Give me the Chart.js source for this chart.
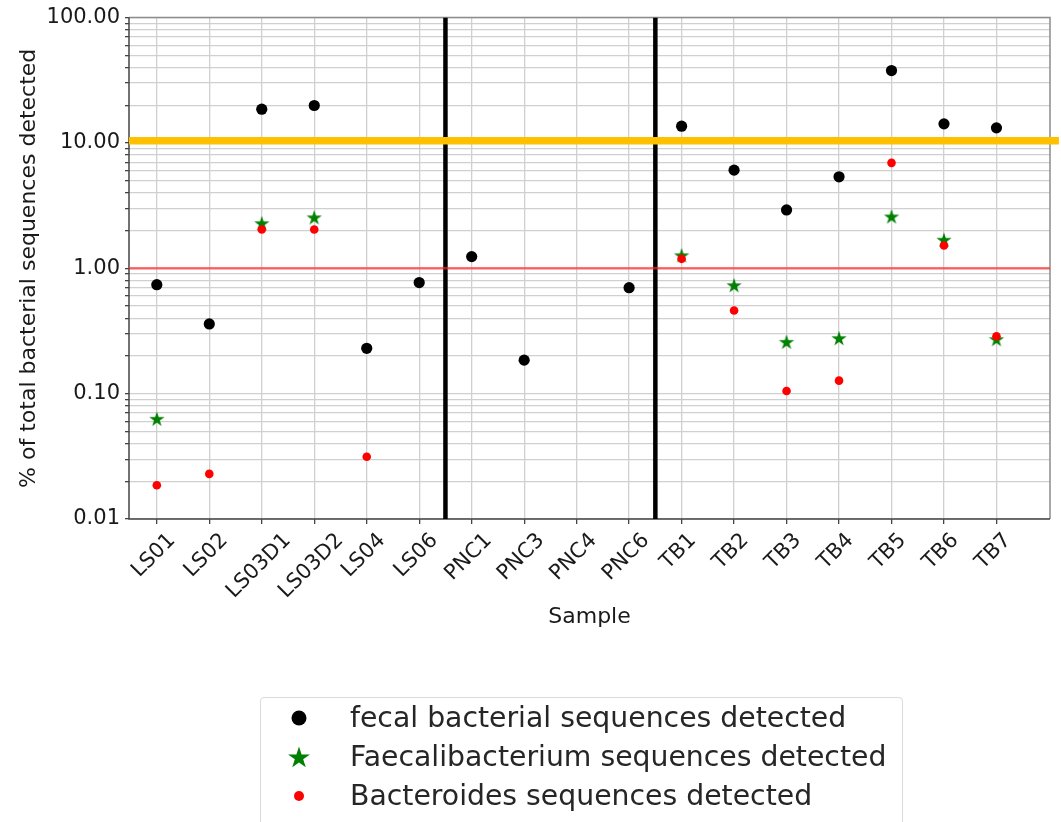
<!DOCTYPE html>
<html>
<head>
<meta charset="utf-8">
<script src="https://cdn.jsdelivr.net/npm/chart.js@4.4.1/dist/chart.umd.min.js"></script>
<style>
html, body { margin: 0; padding: 0; background: #fff; }
body { width: 1061px; height: 822px; overflow: hidden; position: relative; font-family: "DejaVu Sans", sans-serif; }
#grafico { position: absolute; left: 0; top: 0; }
#legenda { position: absolute; left: 260px; top: 697px; width: 641px; height: 140px; border: 1px solid #dadada; border-radius: 4px; background: #fff; }
.item { height: 39px; line-height: 39px; display: flex; align-items: center; font-size: 28.3px; color: #262626; white-space: nowrap; }
.marca { width: 76px; display: flex; justify-content: center; align-items: center; }
.texto { margin-left: 13px; }
</style>
</head>
<body>
<canvas id="grafico" width="1061" height="822"></canvas>
<div id="legenda">
  <div class="item"><span class="marca"><svg width="18" height="18"><circle cx="9" cy="9" r="7.5" fill="#000"/></svg></span><span class="texto">fecal bacterial sequences detected</span></div>
  <div class="item"><span class="marca"><svg width="24" height="24" id="estrelaLeg"></svg></span><span class="texto">Faecalibacterium sequences detected</span></div>
  <div class="item"><span class="marca"><svg width="12" height="12"><circle cx="6" cy="6" r="5" fill="#ff0000"/></svg></span><span class="texto">Bacteroides sequences detected</span></div>
</div>
<script>
// amostras no eixo x
const amostras = ["LS01", "LS02", "LS03D1", "LS03D2", "LS04", "LS06", "PNC1", "PNC3", "PNC4", "PNC6",
  "TB1", "TB2", "TB3", "TB4", "TB5", "TB6", "TB7"];

// % do total de sequencias (null = nao detectado)
const fecais = [0.74, 0.36, 18.6, 19.9, 0.23, 0.77, 1.24, 0.185, null, 0.70, 13.6, 6.07, 2.92, 5.37, 37.8, 14.2, 13.2];
const faecalibacterium = [0.063, null, 2.29, 2.55, null, null, null, null, null, null, 1.27, 0.733, 0.259, 0.277, 2.59, 1.69, 0.272];
const bacteroides = [0.0186, 0.0229, 2.04, 2.04, 0.0314, null, null, null, null, null, 1.19, 0.461, 0.105, 0.127, 6.94, 1.52, 0.287];

// linhas de referencia
const divisores = [5.5, 9.5];
const limiteLaranja = 10.4;
const limiteLaranjaX = [-0.53, 17.19];
const linhaVermelha = 1;

// eixos
const xMin = -0.53, xMax = 17.02;
const yMaiores = [0.01, 0.1, 1, 10, 100];
const yRotulos = ["0.01", "0.10", "1.00", "10.00", "100.00"];

Chart.defaults.font.family = "'DejaVu Sans', sans-serif";

function pontos(valores) {
  return valores.map((v, i) => ({x: i, y: v})).filter(p => p.y !== null);
}

function desenhaEstrela(ctx, cx, cy, raio) {
  ctx.beginPath();
  for (let i = 0; i < 10; i++) {
    const r = i % 2 === 0 ? raio : raio * 0.382;
    const a = -Math.PI / 2 + i * Math.PI / 5;
    ctx.lineTo(cx + r * Math.cos(a), cy + r * Math.sin(a));
  }
  ctx.closePath();
}

// estrela verde (o 'star' do chart.js e um asterisco)
const estrela = document.createElement("canvas");
estrela.width = 18; estrela.height = 18;
{
  const c = estrela.getContext("2d");
  desenhaEstrela(c, 9, 9.7, 8);
  c.fillStyle = "#008000";
  c.fill();
}

// estrela da legenda
{
  const ns = "http://www.w3.org/2000/svg";
  const p = document.createElementNS(ns, "polygon");
  const pts = [];
  for (let i = 0; i < 10; i++) {
    const r = i % 2 === 0 ? 11.5 : 11.5 * 0.382;
    const a = -Math.PI / 2 + i * Math.PI / 5;
    pts.push((12 + r * Math.cos(a)).toFixed(2) + "," + (13 + r * Math.sin(a)).toFixed(2));
  }
  p.setAttribute("points", pts.join(" "));
  p.setAttribute("fill", "#008000");
  document.getElementById("estrelaLeg").appendChild(p);
}

// moldura da area do grafico (esquerda e base mais escuras)
const moldura = {
  id: "moldura",
  beforeDatasetsDraw(chart) {
    const {ctx, chartArea: a} = chart;
    ctx.save();
    ctx.lineWidth = 1.5;
    ctx.strokeStyle = "#8c8c8c";
    ctx.beginPath();
    ctx.moveTo(a.left, a.top);
    ctx.lineTo(a.right, a.top);
    ctx.lineTo(a.right, a.bottom);
    ctx.stroke();
    ctx.strokeStyle = "#444";
    ctx.beginPath();
    ctx.moveTo(a.left, a.top);
    ctx.lineTo(a.left, a.bottom);
    ctx.lineTo(a.right, a.bottom);
    ctx.stroke();
    ctx.restore();
  }
};

// rotulos do eixo x girados 45 graus, centrados no tick
const rotulosX = {
  id: "rotulosX",
  afterDraw(chart) {
    const {ctx, scales: {x}, chartArea: a} = chart;
    ctx.save();
    ctx.font = "21px 'DejaVu Sans'";
    ctx.fillStyle = "#1a1a1a";
    ctx.textAlign = "center";
    ctx.textBaseline = "middle";
    amostras.forEach((nome, i) => {
      const w = ctx.measureText(nome).width;
      const meia = (w + 15) * Math.SQRT1_2 / 2;
      ctx.save();
      ctx.translate(x.getPixelForValue(i) - 3, a.bottom + 13 + meia);
      ctx.rotate(-Math.PI / 4);
      ctx.fillText(nome, 0, 0);
      ctx.restore();
    });
    ctx.restore();
  }
};

const datasets = [
  {
    label: "Bacteroides sequences detected",
    data: pontos(bacteroides),
    pointRadius: 4.3,
    backgroundColor: "#ff0000",
    borderWidth: 0,
    order: 1
  },
  {
    label: "Faecalibacterium sequences detected",
    data: pontos(faecalibacterium),
    pointStyle: estrela,
    pointRadius: 8,
    backgroundColor: "#008000",
    borderWidth: 0,
    order: 2
  },
  {
    label: "fecal bacterial sequences detected",
    data: pontos(fecais),
    pointRadius: 5.6,
    backgroundColor: "#000000",
    borderWidth: 0,
    order: 3
  },
  {
    label: "limite",
    data: limiteLaranjaX.map(v => ({x: v, y: limiteLaranja})),
    showLine: true,
    borderColor: "#ffc000",
    borderWidth: 7.5,
    pointRadius: 0,
    clip: false,
    order: 4
  },
  {
    label: "1%",
    data: [{x: xMin, y: linhaVermelha}, {x: xMax, y: linhaVermelha}],
    showLine: true,
    borderColor: "rgba(255, 40, 40, 0.65)",
    borderWidth: 2.5,
    pointRadius: 0,
    order: 5
  }
];

divisores.forEach(d => {
  datasets.push({
    label: "divisor",
    data: [{x: d, y: yMaiores[0]}, {x: d, y: yMaiores[yMaiores.length - 1]}],
    showLine: true,
    borderColor: "#000000",
    borderWidth: 4.5,
    pointRadius: 0,
    order: 6
  });
});

new Chart(document.getElementById("grafico"), {
  type: "scatter",
  data: { datasets: datasets },
  plugins: [moldura, rotulosX],
  options: {
    responsive: false,
    animation: false,
    devicePixelRatio: 1,
    events: [],
    layout: { padding: { top: 15, right: 11, left: 18, bottom: 194 } },
    plugins: {
      legend: { display: false },
      tooltip: { enabled: false }
    },
    scales: {
      x: {
        type: "linear",
        min: xMin,
        max: xMax,
        afterBuildTicks: s => { s.ticks = amostras.map((_, i) => ({value: i})); },
        afterFit: s => { s.height = 109; },
        ticks: { display: false },
        grid: { color: "#d0d0d0", lineWidth: 1.3, tickLength: 5, tickColor: "#444" },
        border: { display: false },
        title: { display: true, text: "Sample", color: "#1a1a1a", font: { size: 22, lineHeight: 1 }, padding: 0 }
      },
      y: {
        type: "logarithmic",
        min: yMaiores[0],
        max: yMaiores[yMaiores.length - 1],
        afterBuildTicks: s => {
          const t = [];
          yMaiores.forEach((m, i) => {
            if (i < yMaiores.length - 1) {
              for (let k = 1; k < 10; k++) t.push({value: m * k});
            } else {
              t.push({value: m});
            }
          });
          s.ticks = t;
        },
        afterFit: s => { s.width = 111; },
        ticks: {
          autoSkip: false,
          padding: 5,
          color: "#1a1a1a",
          font: { size: 21 },
          callback: v => {
            const i = yMaiores.findIndex(m => Math.abs(m - v) / m < 1e-6);
            return i >= 0 ? yRotulos[i] : "";
          }
        },
        grid: { color: "#d0d0d0", lineWidth: 1.3, tickLength: 4, tickColor: "#444" },
        border: { display: false },
        title: { display: true, text: "% of total bacterial sequences detected", color: "#1a1a1a", font: { size: 22, lineHeight: 1 }, padding: 0 }
      }
    }
  }
});
</script>
</body>
</html>
